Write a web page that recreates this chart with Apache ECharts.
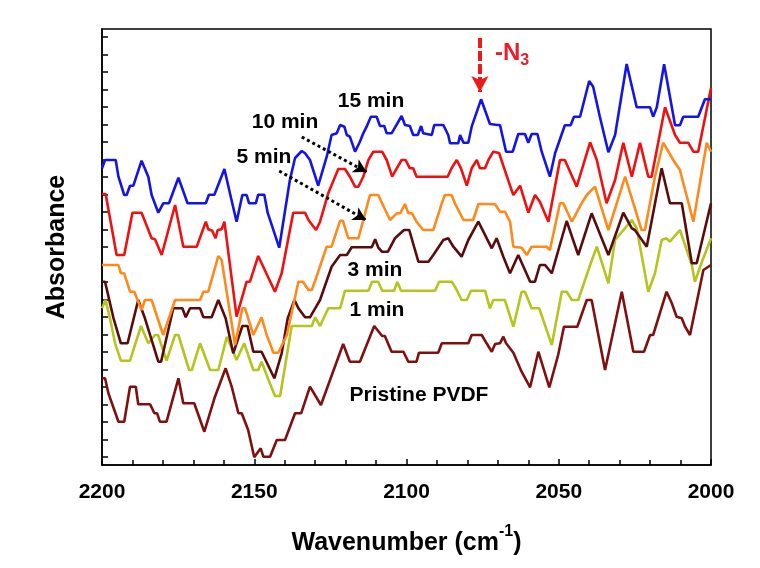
<!DOCTYPE html>
<html>
<head>
<meta charset="utf-8">
<script src="https://cdn.jsdelivr.net/npm/echarts@6/dist/echarts.min.js"></script>
<style>html,body{margin:0;padding:0;background:#fff;}#c{width:760px;height:568px;}</style>
</head>
<body>
<div id="c"></div>
<script>
// x tick labels (wavenumber, cm-1)
const xTicks = [2200, 2150, 2100, 2050, 2000];
// unlabeled absorbance ticks (arbitrary units)
const yTicks = [0,1.75,3.5,5.25,7,8.75,10.5,12.25,14,15.75,17.5,19.25,21,22.75,24.5,26.25,28,29.75,31.5,33.25,35,36.75,38.5,40.25,42];

const min15 = [[2200,28.87],[2199.0,29.7],[2195.5,29.7],[2194.6,28.03],[2192.7,26.2],[2191.9,26.2],[2190.8,27.13],[2189.7,27.13],[2187.0,29.63],[2184.8,28.03],[2183.7,26.2],[2181.5,24.43],[2179.9,25.37],[2178.0,25.37],[2174.9,27.93],[2171.9,25.37],[2165.9,25.37],[2164.9,26.23],[2163.1,26.23],[2159.8,28.8],[2157.6,25.87],[2155.8,23.53],[2153.9,26.2],[2152.5,26.2],[2151.7,25.37],[2149.5,25.37],[2148.7,26.23],[2146.7,26.23],[2145.6,24.43],[2141.8,20.93],[2138.3,27.7],[2136.6,29.9],[2134.4,30.6],[2133.3,30.37],[2131.7,29.7],[2129.0,27.13],[2126.2,30.03],[2124.6,32.2],[2122.9,32.37],[2121.8,33.2],[2120.4,33.03],[2119.6,32.2],[2118.6,32.03],[2116.9,30.53],[2115.3,31.53],[2114.2,32.37],[2113.1,33.03],[2111.7,34.03],[2109.8,34.03],[2108.7,33.1],[2107.3,33.1],[2106.5,32.37],[2104.9,32.37],[2101.6,34.1],[2100.5,33.2],[2098.9,33.1],[2097.8,32.2],[2096.3,32.2],[2095.2,33.1],[2094.5,32.37],[2091.7,32.2],[2090.9,33.2],[2087.9,33.2],[2086.3,32.2],[2085.7,31.37],[2083.0,31.37],[2082.4,32.2],[2081.3,31.43],[2079.7,31.43],[2078.6,33.03],[2075.5,35.77],[2072.6,33.3],[2070.1,33.2],[2069.3,33.2],[2067.3,30.53],[2065.1,30.53],[2063.3,32.3],[2061.1,32.3],[2060.0,31.43],[2058.9,32.3],[2057.0,32.3],[2055.6,30.53],[2052.9,28.03],[2051.2,30.37],[2048.0,33.17],[2046.1,33.17],[2045.0,34.03],[2043.0,34.03],[2040.0,37.6],[2038.7,37.03],[2036.5,34.03],[2033.7,30.47],[2031.5,32.2],[2027.7,39.3],[2024.4,34.97],[2020.0,34.97],[2019.0,34.03],[2017.8,34.97],[2015.4,39.27],[2011.8,33.17],[2010.2,33.17],[2009.1,34.03],[2004.2,34.03],[2002.0,35.77],[2000,35.77]];

const min10 = [[2200,26.3],[2198.8,26.3],[2195.2,20.2],[2192.7,20.2],[2190.0,24.43],[2187.0,24.43],[2183.7,21.87],[2182.6,21.77],[2180.4,20.2],[2176.0,25.2],[2173.3,21.03],[2168.9,21.03],[2165.9,23.53],[2165.1,22.77],[2163.8,22.63],[2162.7,21.87],[2162.0,22.7],[2160.7,22.77],[2159.8,23.53],[2155.8,14.03],[2152.5,17.53],[2151.4,17.53],[2148.7,20.1],[2143.2,16.53],[2141.0,18.37],[2137.2,24.43],[2133.3,24.43],[2132.2,23.7],[2129.7,22.7],[2128.4,23.53],[2125.7,26.37],[2122.4,28.8],[2120.2,28.8],[2118.6,28.03],[2116.9,27.03],[2115.8,27.03],[2114.2,28.03],[2112.5,29.7],[2110.9,30.53],[2108.0,30.53],[2106.5,29.7],[2104.7,28.03],[2103.2,28.87],[2101.6,29.7],[2100.3,29.7],[2098.9,28.87],[2097.8,28.87],[2096.7,28.03],[2086.5,28.03],[2085.2,28.87],[2083.5,29.7],[2082.1,28.87],[2080.2,27.13],[2078.6,28.87],[2076.9,29.7],[2075.9,28.87],[2074.2,28.87],[2073.1,29.7],[2071.5,30.53],[2069.6,30.4],[2066.0,27.13],[2064.9,26.2],[2062.7,27.13],[2060.0,24.43],[2057.8,26.2],[2056.2,25.53],[2053.4,23.53],[2049.6,29.7],[2048.0,29.7],[2044.1,27.03],[2039.7,31.47],[2037.5,29.7],[2034.3,25.37],[2031.5,27.7],[2028.8,31.43],[2026.0,28.03],[2023.3,31.43],[2020.6,28.03],[2019.5,28.03],[2015.1,34.97],[2011.8,32.2],[2010.2,31.43],[2007.5,31.43],[2005.8,30.53],[2004.2,30.53],[2000,36.9]];

const min5 = [[2200,19.2],[2194.6,19.2],[2193.8,18.37],[2192.7,18.37],[2190.8,16.53],[2189.4,16.53],[2187.0,14.7],[2185.9,15.7],[2183.7,15.7],[2179.9,12.2],[2176.0,15.7],[2167.8,15.7],[2166.7,16.53],[2165.1,16.53],[2161.8,20.1],[2160.7,19.7],[2156.3,11.2],[2153.9,14.87],[2153.0,14.87],[2150.3,12.2],[2147.6,13.97],[2145.9,12.2],[2143.7,10.43],[2142.1,10.43],[2139.3,12.2],[2135.5,17.53],[2134.0,17.53],[2132.2,16.7],[2131.1,16.7],[2129.7,17.9],[2126.2,21.03],[2124.6,21.03],[2121.8,23.63],[2120.9,23.63],[2119.1,21.87],[2115.8,21.87],[2112.0,26.2],[2109.3,26.2],[2105.4,23.7],[2103.2,24.37],[2102.1,24.37],[2100.5,25.3],[2099.4,24.37],[2098.2,24.37],[2096.7,23.53],[2094.5,22.7],[2091.2,22.7],[2088.4,25.37],[2087.4,26.2],[2085.2,26.2],[2084.1,25.37],[2081.3,23.7],[2078.1,23.7],[2076.4,25.3],[2073.1,25.3],[2070.9,25.27],[2069.3,24.53],[2067.7,24.53],[2066.0,23.53],[2064.9,21.03],[2062.2,20.93],[2060.5,20.2],[2058.9,21.03],[2054.0,21.03],[2052.9,20.7],[2049.6,25.37],[2048.5,25.37],[2045.7,23.53],[2042.5,25.37],[2040.8,26.2],[2038.1,27.03],[2033.7,22.7],[2028.2,28.03],[2022.8,22.7],[2021.7,22.7],[2018.4,28.03],[2015.7,31.43],[2012.4,29.7],[2010.2,28.7],[2009.6,28.7],[2005.8,23.53],[2001.4,31.43],[2000,30.53]];

const min3 = [[2200,17.53],[2199.0,17.53],[2196.3,13.97],[2193.8,11.37],[2191.6,11.37],[2188.1,15.7],[2185.9,13.87],[2181.5,9.53],[2180.6,9.53],[2176.6,14.87],[2173.6,14.87],[2172.5,13.97],[2171.1,14.87],[2167.8,14.87],[2166.7,13.97],[2164.0,13.97],[2161.8,15.7],[2159.4,13.87],[2156.9,10.37],[2153.9,13.1],[2152.2,13.1],[2150.3,10.53],[2147.6,10.53],[2143.4,7.87],[2141.0,10.37],[2139.0,13.87],[2136.8,15.7],[2135.5,14.87],[2133.3,13.97],[2131.7,13.97],[2130.0,14.87],[2128.4,15.7],[2124.6,19.03],[2121.8,20.2],[2119.6,20.2],[2118.0,20.97],[2111.4,20.97],[2110.3,21.77],[2109.3,20.97],[2108.1,20.53],[2106.1,20.53],[2103.8,21.87],[2100.8,22.7],[2099.1,22.7],[2096.1,19.53],[2092.8,19.53],[2091.2,20.2],[2087.9,21.7],[2086.3,21.87],[2084.6,21.03],[2081.9,20.03],[2079.7,21.7],[2076.4,23.53],[2072.0,20.87],[2070.4,21.87],[2068.2,20.03],[2066.0,18.37],[2063.3,20.2],[2059.4,17.53],[2057.8,17.53],[2056.2,19.2],[2054.5,19.2],[2052.3,18.37],[2047.4,23.6],[2043.6,20.2],[2039.2,24.37],[2033.7,20.2],[2028.8,24.43],[2026.0,22.87],[2025.0,22.7],[2021.1,21.03],[2016.2,28.87],[2013.5,25.37],[2009.6,25.37],[2006.3,19.37],[2004.7,19.37],[2000,25.37]];

const min1 = [[2200,14.87],[2198.8,15.7],[2197.4,13.87],[2195.7,11.37],[2193.8,9.63],[2190.8,9.63],[2187.2,13.1],[2184.8,11.37],[2182.6,12.2],[2181.6,12.2],[2178.8,9.63],[2176.0,12.2],[2174.9,12.2],[2171.4,8.7],[2170.5,8.7],[2167.8,11.37],[2164.5,8.7],[2161.8,8.7],[2159.0,12.03],[2155.8,9.7],[2153.3,11.37],[2150.3,8.7],[2148.7,8.7],[2147.6,9.53],[2145.4,7.77],[2143.2,6.1],[2141.5,6.1],[2137.7,13.1],[2136.6,13.1],[2131.1,13.1],[2130.0,13.97],[2128.4,13.1],[2125.7,14.87],[2121.8,14.87],[2120.2,16.63],[2112.5,16.63],[2111.3,17.53],[2109.3,17.53],[2108.0,16.63],[2104.1,16.63],[2103.0,17.5],[2101.8,16.63],[2090.6,16.63],[2089.3,17.53],[2085.1,17.53],[2083.5,16.7],[2081.9,15.7],[2080.2,15.7],[2078.8,16.63],[2074.2,16.63],[2072.6,14.87],[2071.5,15.7],[2067.7,15.7],[2064.9,13.03],[2062.2,16.53],[2061.1,16.53],[2058.9,14.87],[2056.4,14.87],[2052.3,11.2],[2049.0,16.53],[2047.4,16.53],[2045.7,15.7],[2043.6,15.7],[2039.7,19.2],[2037.5,21.03],[2033.7,17.37],[2031.5,21.7],[2026.0,23.7],[2024.4,22.87],[2020.6,16.53],[2018.4,18.37],[2016.2,21.7],[2014.6,21.87],[2013.5,21.53],[2010.2,22.7],[2006.3,19.2],[2005.3,17.53],[2003.0,19.5],[2000,21.87]];

const pristine = [[2200,7.87],[2199.0,7.87],[2197.9,6.37],[2194.6,3.53],[2192.7,3.53],[2190.8,7.03],[2188.9,7.03],[2188.1,5.27],[2184.2,5.27],[2182.8,4.37],[2181.9,4.37],[2181.0,3.53],[2178.8,3.53],[2174.9,7.87],[2173.3,5.37],[2169.7,5.37],[2166.4,2.53],[2162.9,6.03],[2159.4,8.87],[2157.4,7.03],[2155.2,4.37],[2154.1,4.37],[2152.0,2.7],[2150.0,-0.03],[2147.9,0.87],[2147.0,0.03],[2144.8,0.03],[2142.6,1.7],[2139.9,1.7],[2136.6,4.37],[2134.6,4.37],[2131.7,7.03],[2128.1,5.2],[2120.8,11.3],[2118.6,9.53],[2115.3,9.53],[2110.6,13.1],[2108.0,12.1],[2107.1,12.1],[2104.9,10.53],[2101.0,10.53],[2099.4,9.53],[2096.7,9.53],[2095.9,10.43],[2089.6,10.43],[2088.4,11.37],[2079.7,11.37],[2078.6,12.2],[2075.3,12.2],[2073.7,11.37],[2072.0,10.53],[2070.9,11.3],[2069.3,11.37],[2068.2,12.03],[2067.3,11.37],[2064.9,10.43],[2062.2,8.53],[2059.4,6.97],[2056.7,10.53],[2053.1,6.97],[2050.2,10.2],[2048.3,13.03],[2043.9,13.03],[2040.8,15.7],[2039.2,15.7],[2034.8,8.7],[2029.3,16.53],[2025.5,10.53],[2022.0,10.53],[2020.0,12.2],[2019.0,12.2],[2014.6,16.53],[2012.9,15.4],[2011.3,14.03],[2009.6,13.87],[2008.5,13.03],[2006.9,12.2],[2002.5,18.7],[2000,19.2]];

const seriesDefs = [
  {name: 'Pristine PVDF', data: pristine, color: '#7F1010'},
  {name: '1 min', data: min1, color: '#B5C41E'},
  {name: '3 min', data: min3, color: '#5A0C0C'},
  {name: '5 min', data: min5, color: '#FF8A1C'},
  {name: '10 min', data: min10, color: '#F01010'},
  {name: '15 min', data: min15, color: '#1414E6'}
];

const FF = "'Liberation Sans', Arial, sans-serif";
const chart = echarts.init(document.getElementById('c'), null, {renderer: 'canvas'});

const series = seriesDefs.map(s => ({
  name: s.name, type: 'line', data: s.data, showSymbol: false, symbol: 'none',
  lineStyle: {color: s.color, width: 2.6}, itemStyle: {color: s.color},
  animation: false, silent: true
}));

series[5].markLine = {
  silent: true, animation: false, label: {show: false}, symbol: ['none', 'arrow'],
  data: [
    [{coord: [2134.4, 32.0], lineStyle: {color: '#000', width: 3, type: [3, 3]}, symbol: 'none'},
     {coord: [2113.1, 28.5], symbol: 'arrow', symbolSize: [11, 13]}],
    [{coord: [2141.8, 28.6], lineStyle: {color: '#000', width: 3, type: [3, 3]}, symbol: 'none'},
     {coord: [2113.3, 23.7], symbol: 'arrow', symbolSize: [11, 13]}],
    [{coord: [2075.9, 41.9], lineStyle: {color: '#F01818', width: 4, type: [10, 3]}, symbol: 'none'},
     {coord: [2075.9, 36.5], symbol: 'arrow', symbolSize: [13, 16]}]
  ]
};

const textStyle = (t, x, y) => ({
  type: 'text', x: x, y: y, silent: true, z: 100,
  style: {text: t, font: 'bold 21px ' + FF, fill: '#000', align: 'center', verticalAlign: 'middle'}
});

chart.setOption({
  animation: false,
  backgroundColor: '#fff',
  grid: {left: 102, right: 49, top: 29, bottom: 103, show: true, borderColor: '#000', borderWidth: 1.5, backgroundColor: 'transparent'},
  xAxis: {
    type: 'value', min: 2000, max: 2200, interval: 50, inverse: true,
    axisLine: {show: true, onZero: false, lineStyle: {color: '#000', width: 1.5}},
    axisTick: {show: true, inside: true, length: 6, lineStyle: {color: '#000', width: 1.5}},
    minorTick: {show: true, splitNumber: 5, length: 5, lineStyle: {color: '#000', width: 1.5}},
    splitLine: {show: false}, minorSplitLine: {show: false},
    axisLabel: {show: true, color: '#000', fontSize: 21, fontWeight: 'bold', fontFamily: FF, margin: 17,
      formatter: v => xTicks.indexOf(v) >= 0 ? String(v) : ''},
    name: '{t|Wavenumber (cm}{s|-1}{t|)}', nameLocation: 'middle', nameGap: 59,
    nameTextStyle: {rich: {
      t: {fontSize: 25, fontWeight: 'bold', fontFamily: FF, color: '#000', lineHeight: 32, verticalAlign: 'bottom'},
      s: {fontSize: 16, fontWeight: 'bold', fontFamily: FF, color: '#000', lineHeight: 16, verticalAlign: 'top'}
    }}
  },
  yAxis: {
    type: 'value', min: -0.8, max: 42.8,
    axisLine: {show: true, onZero: false, lineStyle: {color: '#000', width: 1.5}},
    axisTick: {show: true, inside: true, length: 6, customValues: yTicks, lineStyle: {color: '#000', width: 1.5}},
    axisLabel: {show: false},
    splitLine: {show: false},
    name: 'Absorbance', nameLocation: 'middle', nameGap: 32, nameRotate: 90,
    nameTextStyle: {fontSize: 25, fontWeight: 'bold', fontFamily: FF, color: '#000'}
  },
  series: series,
  graphic: [
    textStyle('15 min', 371, 101),
    textStyle('10 min', 285, 122),
    textStyle('5 min', 264, 157),
    textStyle('3 min', 375, 270),
    textStyle('1 min', 377, 310),
    textStyle('Pristine PVDF', 419, 395),
    {type: 'text', x: 495, y: 55, silent: true, z: 100,
      style: {text: '{a|-N}{b|3}', align: 'left', verticalAlign: 'middle',
        rich: {a: {font: 'bold 24px ' + FF, fill: '#E8202A', lineHeight: 28, verticalAlign: 'top'},
               b: {font: 'bold 16px ' + FF, fill: '#E8202A', lineHeight: 28, verticalAlign: 'bottom', padding: [12, 0, 0, 0]}}}}
  ]
});
</script>
</body>
</html>
